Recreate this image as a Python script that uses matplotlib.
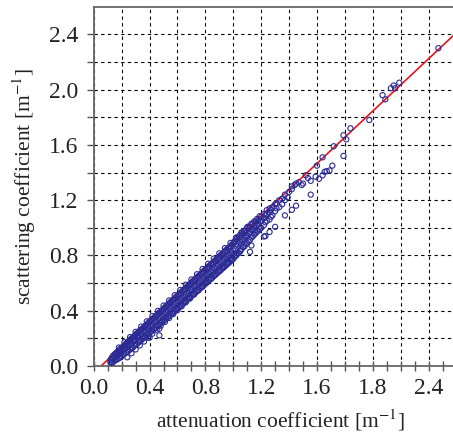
import matplotlib
matplotlib.use("Agg")
import matplotlib.pyplot as plt
from matplotlib.ticker import FixedLocator, MultipleLocator

X_LABEL = "attenuation coefficient [m$^{-1}$]"
Y_LABEL = "scattering coefficient [m$^{-1}$]"

# tick labels as printed on the original (note the "1.8" where 2.0 sits)
x_ticks = [0.0, 0.2, 0.4, 0.6, 0.8, 1.0, 1.2, 1.4, 1.6, 1.8, 2.0, 2.2, 2.4]
x_tick_labels = ["0.0", "", "0.4", "", "0.8", "", "1.2", "", "1.6", "", "1.8", "", "2.4"]
y_ticks = [0.0, 0.2, 0.4, 0.6, 0.8, 1.0, 1.2, 1.4, 1.6, 1.8, 2.0, 2.2, 2.4]
y_tick_labels = ["0.0", "", "0.4", "", "0.8", "", "1.2", "", "1.6", "", "2.0", "", "2.4"]

# regression line end points
line_x = [0.052, 2.60]
line_y = [0.0, 2.413]

rows = [
    (0.12, [0.028, 0.045]),
    (0.13, [0.022, 0.040, 0.062]),
    (0.14, [0.030, 0.054, 0.075]),
    (0.15, [0.038, 0.060, 0.085]),
    (0.16, [0.044, 0.070, 0.094]),
    (0.17, [0.050, 0.078, 0.104]),
    (0.18, [0.056, 0.086, 0.112, 0.133]),
    (0.19, [0.062, 0.098, 0.124]),
    (0.20, [0.070, 0.106, 0.132]),
    (0.21, [0.082, 0.112, 0.140]),
    (0.22, [0.088, 0.124, 0.150, 0.171]),
    (0.23, [0.096, 0.128, 0.160]),
    (0.24, [0.104, 0.140, 0.170, 0.063]),
    (0.25, [0.110, 0.150, 0.180]),
    (0.26, [0.120, 0.158, 0.190, 0.209]),
    (0.27, [0.130, 0.168, 0.198, 0.092]),
    (0.28, [0.134, 0.180, 0.206]),
    (0.29, [0.146, 0.186, 0.216]),
    (0.30, [0.152, 0.194, 0.228, 0.247, 0.120]),
    (0.31, [0.160, 0.208, 0.236]),
    (0.32, [0.170, 0.212, 0.244]),
    (0.33, [0.178, 0.224, 0.256, 0.149]),
    (0.34, [0.186, 0.232, 0.264, 0.285]),
    (0.35, [0.196, 0.242, 0.270]),
    (0.36, [0.204, 0.250, 0.282, 0.177]),
    (0.37, [0.212, 0.258, 0.292]),
    (0.38, [0.222, 0.270, 0.300, 0.323]),
    (0.39, [0.230, 0.276, 0.310, 0.205]),
    (0.40, [0.240, 0.288, 0.322, 0.205]),
    (0.41, [0.248, 0.294, 0.330]),
    (0.42, [0.256, 0.302, 0.340, 0.361, 0.234]),
    (0.43, [0.266, 0.314, 0.348]),
    (0.44, [0.274, 0.320, 0.358]),
    (0.45, [0.284, 0.330, 0.366, 0.262]),
    (0.46, [0.290, 0.340, 0.378, 0.399]),
    (0.47, [0.300, 0.348, 0.386, 0.270, 0.222]),
    (0.48, [0.310, 0.356, 0.396, 0.291]),
    (0.49, [0.318, 0.366, 0.404]),
    (0.50, [0.326, 0.376, 0.414, 0.437]),
    (0.51, [0.336, 0.384, 0.424, 0.319]),
    (0.52, [0.344, 0.392, 0.434]),
    (0.53, [0.354, 0.402, 0.444]),
    (0.54, [0.362, 0.412, 0.452, 0.474, 0.347]),
    (0.55, [0.370, 0.420, 0.462]),
    (0.56, [0.380, 0.430, 0.472]),
    (0.57, [0.388, 0.440, 0.480, 0.376]),
    (0.58, [0.398, 0.448, 0.490, 0.512]),
    (0.59, [0.406, 0.458, 0.500]),
    (0.60, [0.416, 0.466, 0.510, 0.404]),
    (0.61, [0.424, 0.476, 0.518]),
    (0.62, [0.434, 0.486, 0.528, 0.550]),
    (0.63, [0.442, 0.494, 0.538, 0.432]),
    (0.64, [0.452, 0.504, 0.548]),
    (0.65, [0.460, 0.512, 0.556]),
    (0.66, [0.470, 0.522, 0.566, 0.588, 0.461]),
    (0.67, [0.478, 0.530, 0.576]),
    (0.68, [0.488, 0.540, 0.586]),
    (0.69, [0.496, 0.550, 0.594, 0.489]),
    (0.70, [0.506, 0.558, 0.604, 0.626]),
    (0.71, [0.514, 0.568, 0.614]),
    (0.72, [0.524, 0.578, 0.622, 0.518]),
    (0.73, [0.532, 0.586, 0.632]),
    (0.74, [0.542, 0.596, 0.642, 0.664]),
    (0.75, [0.550, 0.604, 0.650, 0.546]),
    (0.76, [0.560, 0.614, 0.660]),
    (0.77, [0.568, 0.622, 0.670]),
    (0.78, [0.578, 0.632, 0.680, 0.702, 0.574]),
    (0.79, [0.586, 0.640, 0.688]),
    (0.80, [0.596, 0.650, 0.698]),
    (0.81, [0.604, 0.660, 0.708, 0.603]),
    (0.82, [0.614, 0.668, 0.716, 0.740]),
    (0.83, [0.622, 0.678, 0.726]),
    (0.84, [0.632, 0.686, 0.736, 0.631]),
    (0.85, [0.640, 0.696, 0.744]),
    (0.86, [0.650, 0.706, 0.754, 0.777]),
    (0.87, [0.658, 0.714, 0.764, 0.660]),
    (0.88, [0.668, 0.724, 0.772]),
    (0.89, [0.676, 0.732, 0.782]),
    (0.90, [0.686, 0.742, 0.792, 0.815, 0.688]),
    (0.91, [0.694, 0.752, 0.802]),
    (0.92, [0.704, 0.760, 0.810]),
    (0.93, [0.712, 0.770, 0.820, 0.716]),
    (0.94, [0.722, 0.778, 0.830, 0.853]),
    (0.95, [0.730, 0.788, 0.840]),
    (0.96, [0.740, 0.798, 0.850, 0.745]),
    (0.97, [0.748, 0.806, 0.858]),
    (0.98, [0.758, 0.816, 0.868, 0.891]),
    (0.99, [0.766, 0.824, 0.878, 0.773]),
    (1.00, [0.776, 0.834, 0.888]),
    (1.01, [0.790, 0.850, 0.902]),
    (1.02, [0.800, 0.872, 0.918, 0.929, 0.802]),
    (1.03, [0.812, 0.880, 0.930]),
    (1.04, [0.817, 0.890, 0.938]),
    (1.05, [0.836, 0.900, 0.950, 0.830]),
    (1.06, [0.846, 0.912, 0.962, 0.967]),
    (1.07, [0.860, 0.918, 0.958]),
    (1.08, [0.866, 0.930, 0.980]),
    (1.09, [0.880, 0.940, 0.976]),
    (1.10, [0.890, 0.946, 0.998, 1.005]),
    (1.11, [0.900, 0.960, 1.010]),
    (1.12, [0.826, 0.912, 0.970, 1.006]),
    (1.13, [0.872, 0.930, 0.984, 1.030]),
    (1.14, [0.938, 0.990, 1.028]),
    (1.15, [0.950, 1.002, 1.046]),
    (1.16, [0.960, 1.012, 1.044]),
    (1.17, [0.972, 1.020, 1.064]),
    (1.18, [0.980, 1.030, 1.060]),
    (1.19, [0.990, 1.046, 1.084]),
    (1.20, [1.000, 1.050, 1.080]),
    (1.22, [0.937, 1.020, 1.070, 1.100]),
    (1.23, [0.940, 1.040, 1.090]),
    (1.24, [1.050, 1.100, 1.128]),
    (1.26, [0.970, 1.060, 1.110, 1.140]),
    (1.27, [1.080, 1.130]),
    (1.28, [1.090, 1.150]),
    (1.30, [1.007, 1.120, 1.170]),
    (1.31, [1.140, 1.180]),
    (1.33, [1.150, 1.200]),
    (1.35, [1.170, 1.210]),
    (1.37, [1.090, 1.200, 1.240]),
    (1.39, [1.220]),
    (1.40, [1.260]),
    (1.42, [1.130, 1.280, 1.300]),
    (1.44, [1.310]),
    (1.45, [1.160, 1.320]),
    (1.47, [1.330]),
    (1.49, [1.310]),
    (1.50, [1.320]),
    (1.52, [1.380]),
    (1.535, [1.360]),
    (1.555, [1.340, 1.240]),
    (1.59, [1.370]),
    (1.60, [1.450]),
    (1.615, [1.355]),
    (1.64, [1.380, 1.510]),
    (1.655, [1.405]),
    (1.67, [1.410]),
    (1.69, [1.415]),
    (1.71, [1.450]),
    (1.72, [1.590]),
    (1.79, [1.520, 1.670]),
    (1.81, [1.640]),
    (1.84, [1.720]),
    (1.975, [1.780]),
    (2.07, [1.960]),
    (2.09, [1.930]),
    (2.13, [2.010]),
    (2.15, [2.030]),
    (2.16, [2.010]),
    (2.19, [2.050]),
    (2.47, [2.300]),
]
atten = []
scatt = []
for xv, ys in rows:
    for yv in ys:
        atten.append(xv)
        scatt.append(yv)

plt.rcParams["font.family"] = ["Liberation Serif", "DejaVu Serif"]
plt.rcParams["mathtext.fontset"] = "stix"

fig = plt.figure(figsize=(4.53, 4.36), dpi=100)
ax = fig.add_axes([0.207, 0.1606, 0.793, 0.824])

# grid first so the data sits on top
ax.set_axisbelow(True)
ax.grid(True, color="black", linestyle=(0, (3, 3)), linewidth=0.8)

ax.plot(line_x, line_y, color="#e8141c", linewidth=1.2, zorder=2)
ax.scatter(atten, scatt, s=14, facecolors="none", edgecolors="#2b2b96",
           linewidths=0.8, zorder=3)

ax.set_xlim(0, 2.575)
ax.set_ylim(0, 2.6)

ax.xaxis.set_major_locator(FixedLocator(x_ticks))
ax.set_xticklabels(x_tick_labels)
ax.xaxis.set_minor_locator(MultipleLocator(0.1))
ax.yaxis.set_major_locator(FixedLocator(y_ticks))
ax.set_yticklabels(y_tick_labels)

ax.tick_params(axis="x", which="both", direction="inout", length=7,
               width=1.0, color="#555555", labelsize=17, pad=5,
               labelcolor="#222222")
ax.tick_params(axis="y", which="both", direction="out", length=5,
               width=1.0, color="#555555", labelsize=17, pad=6,
               labelcolor="#222222")

for side in ["left", "bottom", "top"]:
    ax.spines[side].set_color("#666666")
    ax.spines[side].set_linewidth(1.3)
ax.spines["right"].set_visible(False)

ax.set_xlabel(X_LABEL, fontsize=15.5, color="#222222", labelpad=5)
ax.xaxis.set_label_coords(0.52, -0.115, transform=ax.transAxes)
ax.xaxis.label.set_va("top")
ax.set_ylabel(Y_LABEL, fontsize=15.5, color="#222222", labelpad=8)

fig.savefig("out.png", dpi=100)
plt.close(fig)
